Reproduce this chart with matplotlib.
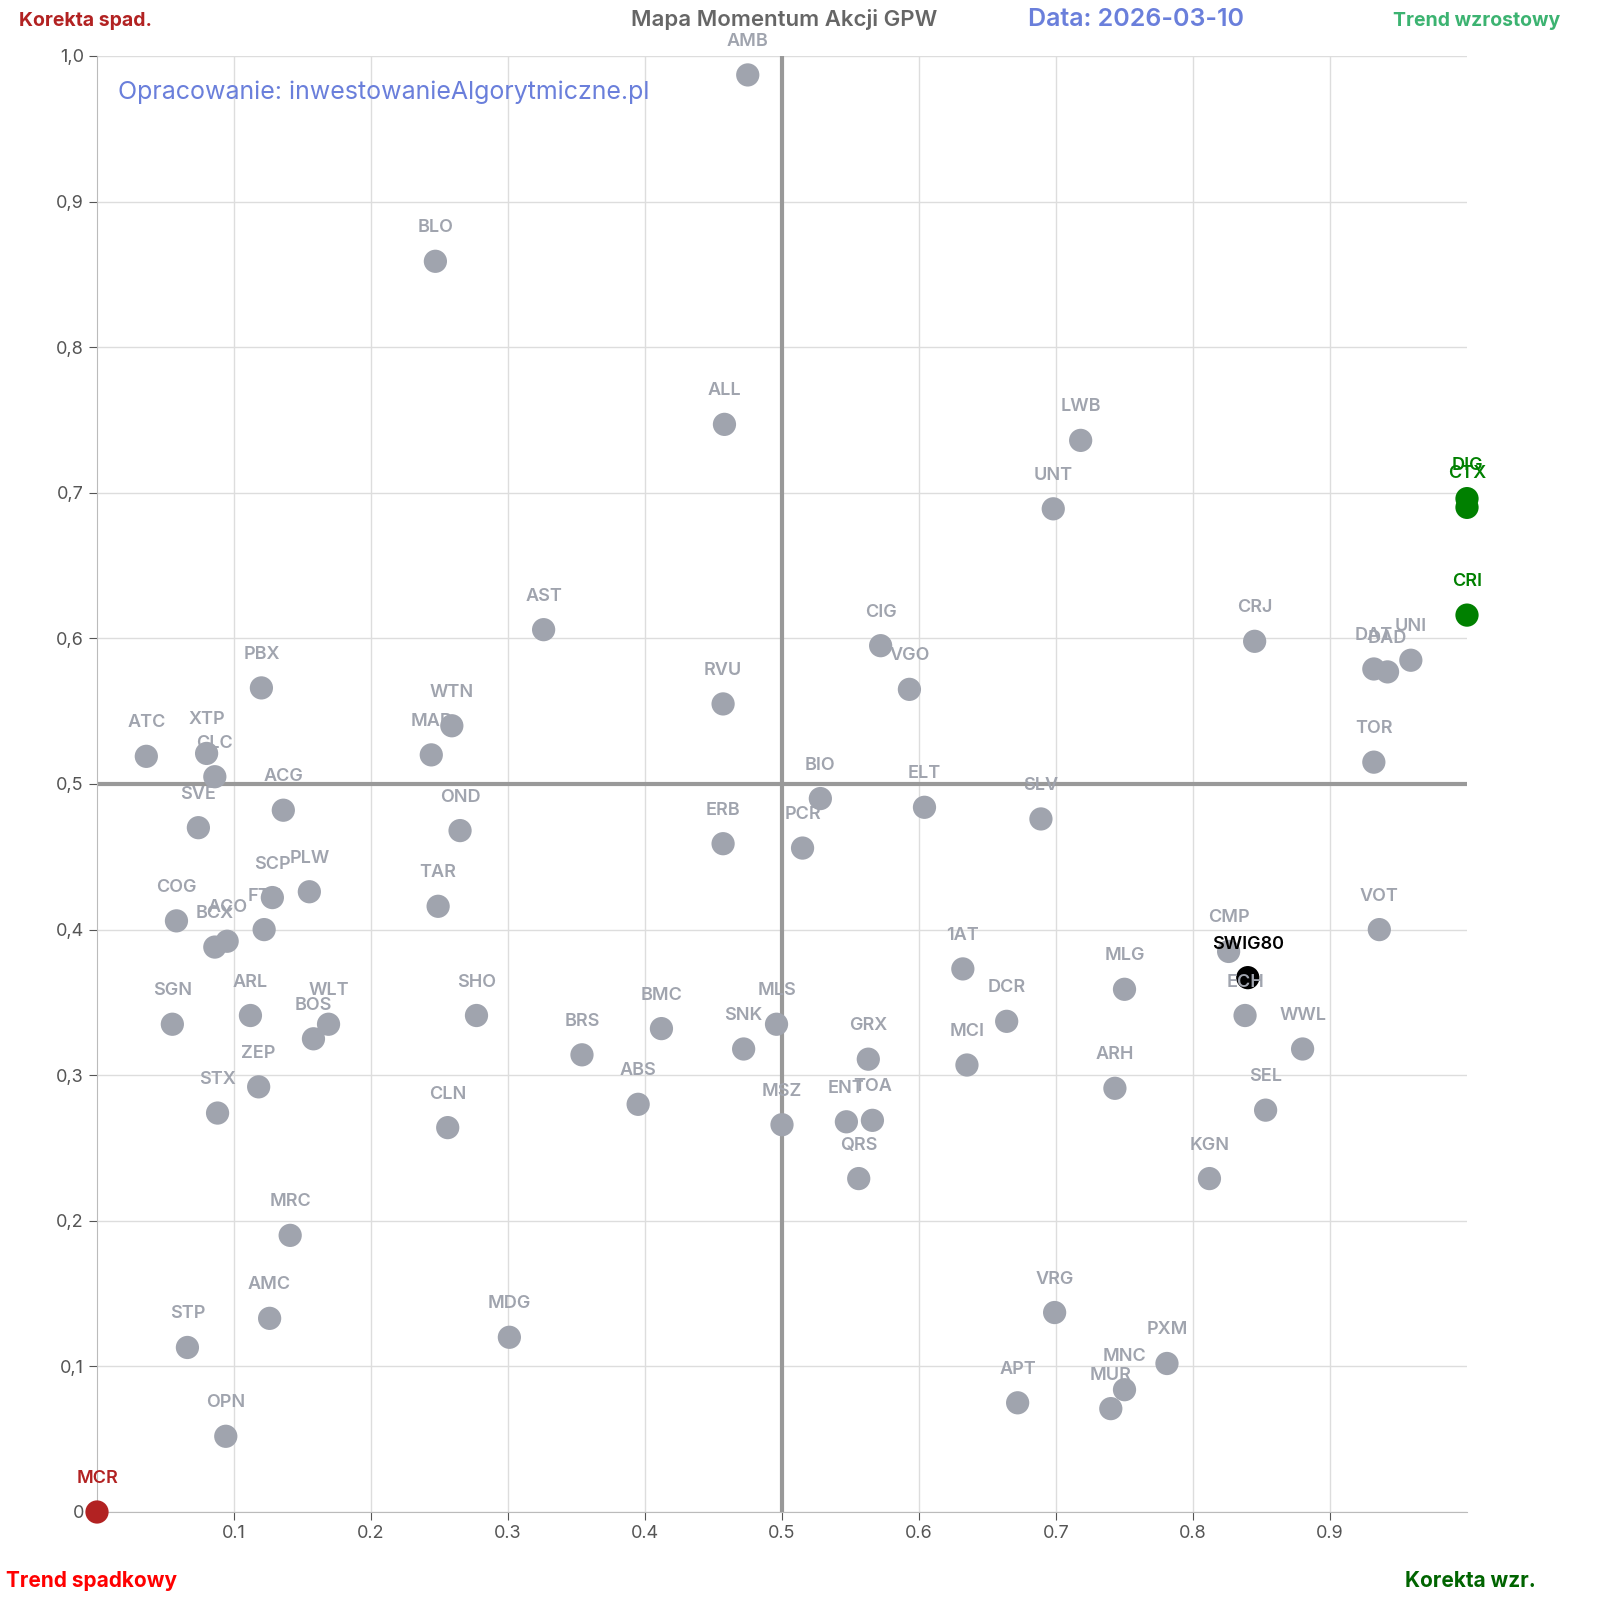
import matplotlib
matplotlib.use("Agg")
import matplotlib.pyplot as plt

plt.rcParams['font.family'] = ['Inter', 'DejaVu Sans']

tickers = ["AMB","BLO","ALL","LWB","UNT","DIG","CTX","CRI","AST","CIG","CRJ","DAT","DAD","UNI","VGO","PBX","RVU","WTN","MAB","ATC","XTP","CLC","TOR","BIO","ELT","ACG","SVE","OND","SLV","ERB","PCR","PLW","SCP","TAR","FTE","VOT","COG","ACO","BCX","CMP","SWIG80","1AT","MLG","ECH","SGN","ARL","WLT","BOS","SHO","DCR","MLS","BMC","BRS","SNK","WWL","GRX","MCI","ZEP","ARH","STX","ABS","SEL","ENT","TOA","MSZ","CLN","QRS","KGN","MRC","AMC","VRG","MDG","STP","PXM","MNC","MUR","APT","OPN","MCR"]
x_vals = [0.475,0.247,0.458,0.718,0.698,1.0,1.0,1.0,0.326,0.572,0.845,0.932,0.942,0.959,0.593,0.120,0.457,0.259,0.244,0.036,0.080,0.086,0.932,0.528,0.604,0.136,0.074,0.265,0.689,0.457,0.515,0.155,0.128,0.249,0.122,0.936,0.058,0.095,0.086,0.826,0.840,0.632,0.750,0.838,0.055,0.112,0.169,0.158,0.277,0.664,0.496,0.412,0.354,0.472,0.880,0.563,0.635,0.118,0.743,0.088,0.395,0.853,0.547,0.566,0.500,0.256,0.556,0.812,0.141,0.126,0.699,0.301,0.066,0.781,0.750,0.740,0.672,0.094,0.0]
y_vals = [0.987,0.859,0.747,0.736,0.689,0.696,0.690,0.616,0.606,0.595,0.598,0.579,0.577,0.585,0.565,0.566,0.555,0.540,0.520,0.519,0.521,0.505,0.515,0.490,0.484,0.482,0.470,0.468,0.476,0.459,0.456,0.426,0.422,0.416,0.400,0.400,0.406,0.392,0.388,0.385,0.367,0.373,0.359,0.341,0.335,0.341,0.335,0.325,0.341,0.337,0.335,0.332,0.314,0.318,0.318,0.311,0.307,0.292,0.291,0.274,0.280,0.276,0.268,0.269,0.266,0.264,0.229,0.229,0.190,0.133,0.137,0.120,0.113,0.102,0.084,0.071,0.075,0.052,0.0]

x_ticks = [0.1,0.2,0.3,0.4,0.5,0.6,0.7,0.8,0.9]
y_ticks = [0,0.1,0.2,0.3,0.4,0.5,0.6,0.7,0.8,0.9,1.0]
y_labels = ["0","0,1","0,2","0,3","0,4","0,5","0,6","0,7","0,8","0,9","1,0"]

GREY = "#a0a4ae"
def color_for(t, x, y):
    if t == "SWIG80": return "black", "black"
    if x >= 0.999: return "green", "green"
    if x <= 0.001 and y <= 0.001: return "#b22222", "#b22222"
    return GREY, GREY

fig = plt.figure(figsize=(16, 16), dpi=100)
ax = fig.add_axes([97/1600, 1-1512/1600, 1370/1600, 1456/1600])
ax.set_xlim(0, 1); ax.set_ylim(0, 1)
ax.set_xticks(x_ticks)
ax.set_xticklabels([f"{v:.1f}" for v in x_ticks])
ax.set_yticks(y_ticks); ax.set_yticklabels(y_labels)
ax.grid(True, color="#dddddd", lw=1)
ax.set_axisbelow(True)
for s in ["top", "right"]:
    ax.spines[s].set_visible(False)
for s in ["left", "bottom"]:
    ax.spines[s].set_color("#bbbbbb")
ax.tick_params(colors="#555555", labelsize=13, length=6)
ax.axvline(0.5, color="#999999", lw=3, zorder=1)
ax.axhline(0.5, color="#999999", lw=3, zorder=1)

for t, x, y in zip(tickers, x_vals, y_vals):
    pc, tc = color_for(t, x, y)
    ax.scatter([x], [y], s=280, color=pc, zorder=3, clip_on=False, edgecolors="none")
    ax.annotate(t, (x, y), xytext=(0, 18), textcoords="offset points", ha="center",
                va="bottom", fontsize=13, fontweight="semibold", color=tc, zorder=4,
                annotation_clip=False)

ax.text(0.015, 0.975, "Opracowanie: inwestowanieAlgorytmiczne.pl", transform=ax.transAxes,
        fontsize=18, color="#6a7fdb", va="center")
fig.text(0.49, 0.988, "Mapa Momentum Akcji GPW", ha="center", va="center", fontsize=16,
         fontweight="semibold", color="#666666")
fig.text(0.71, 0.988, "Data: 2026-03-10", ha="center", va="center", fontsize=18,
         fontweight="semibold", color="#6a7fdb")
fig.text(0.012, 0.987, "Korekta spad.", ha="left", va="center", fontsize=14, fontweight="bold", color="#b22222")
fig.text(0.975, 0.987, "Trend wzrostowy", ha="right", va="center", fontsize=14, fontweight="bold", color="#3cb371")
fig.text(0.004, 0.012, "Trend spadkowy", ha="left", va="center", fontsize=15, fontweight="bold", color="red")
fig.text(0.96, 0.012, "Korekta wzr.", ha="right", va="center", fontsize=15, fontweight="bold", color="darkgreen")

fig.savefig("out.png", dpi=100)
